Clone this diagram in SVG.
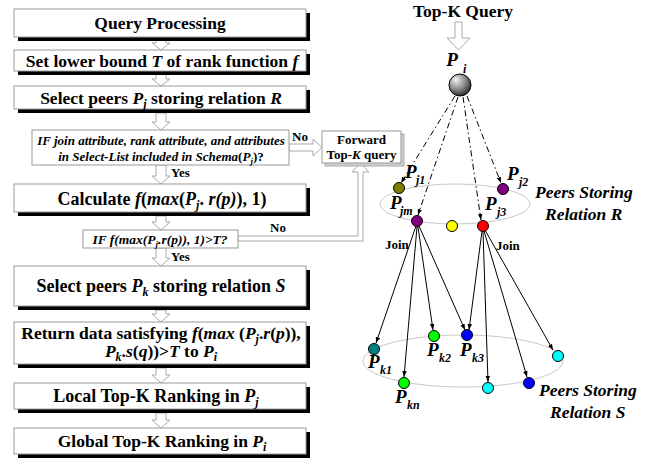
<svg xmlns="http://www.w3.org/2000/svg" width="664" height="464" viewBox="0 0 664 464">
<defs>
<style>
text{font-family:"Liberation Serif","Times New Roman",serif;font-weight:bold;fill:#000}
.box{fill:#fff;stroke:#999;stroke-width:1}
.sh{fill:#000}
.cond{fill:#fff;stroke:#999;stroke-width:1}
.harrow{fill:#fff;stroke:#aaa;stroke-width:1}
.t17{font-size:17.5px}
.t18{font-size:18px}
.t13{font-size:13px}
.it{font-style:italic}
.sub{font-size:12px;font-style:italic}
.dd{fill:none;stroke:#000;stroke-width:1;stroke-dasharray:6 3 1.5 3}
.jn{fill:none;stroke:#000;stroke-width:1}
.ell{fill:none;stroke:#c8c8c8;stroke-width:1}
.nd{stroke:#000;stroke-width:1}
.lbl{font-size:19px;font-style:italic}
.lsub{font-size:12px;font-style:italic}
</style>
<marker id="ah" viewBox="0 0 8 6" refX="8" refY="3" markerWidth="6" markerHeight="5" markerUnits="userSpaceOnUse" orient="auto">
<path d="M0,0 L8,3 L0,6 Z" fill="#000"/>
</marker>
<radialGradient id="sph" cx="0.4" cy="0.35" r="0.65" fx="0.3" fy="0.25">
<stop offset="0" stop-color="#f4f4f4"/>
<stop offset="0.6" stop-color="#8a8a8a"/>
<stop offset="1" stop-color="#303030"/>
</radialGradient>
</defs>
<rect width="664" height="464" fill="#fff"/>

<g id="flow-arrows" class="harrow">
<path d="M156,40 V43 H152 L161,50 L170,43 H166 V40 Z"/>
<path d="M156,74 V79 H152 L161,86 L170,79 H166 V74 Z"/>
<path d="M156,113 V122 H152 L161,130 L170,122 H166 V113 Z"/>
<path d="M156,165 V176 H152 L161,184 L170,176 H166 V165 Z"/>
<path d="M156,216 V222 H152 L161,230 L170,222 H166 V216 Z"/>
<path d="M156,248 V258 H152 L161,266 L170,258 H166 V248 Z"/>
<path d="M156,310 V314 H152 L161,322 L170,314 H166 V310 Z"/>
<path d="M156,368 V375 H152 L161,383 L170,375 H166 V368 Z"/>
<path d="M156,413 V420 H152 L161,428 L170,420 H166 V413 Z"/>
<path d="M289,144 H313 V139 L322,147.5 L313,156 V151 H289 Z"/>
<path d="M238,236 H358 V172 H352 L360.5,163 L369,172 H363 V241 H238 Z"/>
<path d="M455,22 V38 H447 L458.5,50 L470,38 H462 V22 Z"/>
</g>

<g id="n1">
<rect class="sh" x="18" y="13" width="292" height="28"/>
<rect class="box" x="14" y="9" width="292" height="28"/>
<text class="t17" x="160" y="29" text-anchor="middle">Query Processing</text>
</g>
<g id="n2">
<rect class="sh" x="18" y="54" width="292" height="21"/>
<rect class="box" x="14" y="50" width="292" height="21"/>
<text class="t17" x="162" y="67" text-anchor="middle">Set lower bound <tspan class="it">T</tspan> of rank function <tspan class="it">f</tspan></text>
</g>
<g id="n3">
<rect class="sh" x="18" y="90" width="292" height="23"/>
<rect class="box" x="14" y="86" width="292" height="23"/>
<text class="t17" x="161" y="104" text-anchor="middle">Select peers <tspan class="it">P</tspan><tspan class="sub" dy="4">j</tspan><tspan dy="-4"> storing relation </tspan><tspan class="it">R</tspan></text>
</g>
<g id="n4">
<rect class="cond" x="32" y="130" width="257" height="35"/>
<text class="t13 it" x="161" y="145" text-anchor="middle">IF join attribute, rank attribute, and attributes</text>
<text class="t13 it" x="161" y="161" text-anchor="middle">in Select-List included in Schema<tspan font-style="normal">(</tspan>P<tspan font-size="9px" dy="3">j</tspan><tspan font-style="normal" dy="-3">)?</tspan></text>
</g>
<g id="n5">
<rect class="sh" x="18" y="188" width="292" height="28"/>
<rect class="box" x="14" y="184" width="292" height="28"/>
<text class="t18" x="162" y="205" text-anchor="middle">Calculate  <tspan class="it">f</tspan>(<tspan class="it">max</tspan>(<tspan class="it">P</tspan><tspan class="sub" dy="4">j</tspan><tspan dy="-4">. </tspan><tspan class="it">r(p)</tspan>), 1)</text>
</g>
<g id="n6">
<rect class="cond" x="83" y="230" width="155" height="18"/>
<text class="it" font-size="13.5px" x="160" y="244" text-anchor="middle">IF f(max(P<tspan font-size="9px" dy="3">j</tspan><tspan dy="-3">.r(p)), 1)&gt;T?</tspan></text>
</g>
<g id="n7">
<rect class="sh" x="18" y="270" width="292" height="40"/>
<rect class="box" x="14" y="266" width="292" height="40"/>
<text class="t18" x="161" y="292" text-anchor="middle">Select peers <tspan class="it">P</tspan><tspan class="sub" dy="4">k</tspan><tspan dy="-4"> storing relation </tspan><tspan class="it">S</tspan></text>
</g>
<g id="n8">
<rect class="sh" x="18" y="326" width="292" height="42"/>
<rect class="box" x="14" y="322" width="292" height="42"/>
<text class="t17" x="161" y="339" text-anchor="middle">Return data satisfying <tspan class="it">f</tspan>(<tspan class="it">max</tspan> (<tspan class="it">P</tspan><tspan class="sub" dy="4">j</tspan><tspan dy="-4">.</tspan><tspan class="it">r</tspan>(<tspan class="it">p</tspan>)),</text>
<text class="t17" x="161" y="357" text-anchor="middle"><tspan class="it">P</tspan><tspan class="sub" dy="4">k</tspan><tspan dy="-4">.</tspan><tspan class="it">s</tspan>(<tspan class="it">q</tspan>))&gt;<tspan class="it">T</tspan> to <tspan class="it">P</tspan><tspan class="sub" dy="4">i</tspan></text>
</g>
<g id="n9">
<rect class="sh" x="18" y="387" width="292" height="26"/>
<rect class="box" x="14" y="383" width="292" height="26"/>
<text class="t18" x="156" y="402" text-anchor="middle">Local Top-K Ranking in <tspan class="it">P</tspan><tspan class="sub" dy="4">j</tspan></text>
</g>
<g id="n10">
<rect class="sh" x="18" y="432" width="292" height="26"/>
<rect class="box" x="14" y="428" width="292" height="26"/>
<text class="t17" x="162" y="447" text-anchor="middle">Global Top-K Ranking in <tspan class="it">P</tspan><tspan class="sub" dy="4">i</tspan></text>
</g>
<g id="fwd">
<rect x="325" y="134" width="79" height="32" fill="#cfcfcf" stroke="#aaa"/>
<rect x="322" y="131" width="79" height="32" fill="#fff" stroke="#999"/>
<text class="t13" x="361.5" y="144" text-anchor="middle">Forward</text>
<text class="t13" x="361.5" y="159" text-anchor="middle">Top-<tspan class="it">K</tspan> query</text>
</g>
<g id="flow-labels">
<text class="t13" x="300" y="141" text-anchor="middle">No</text>
<text class="t13" x="278" y="232" text-anchor="middle">No</text>
<text class="t13" x="171" y="177">Yes</text>
<text class="t13" x="171" y="261">Yes</text>
</g>

<text class="t17" x="463" y="17" text-anchor="middle">Top-K Query</text>
<ellipse class="ell" cx="455" cy="204" rx="75" ry="20"/>
<ellipse class="ell" cx="463" cy="361" rx="100" ry="26"/>

<g id="connectors">
<line class="dd" x1="455" y1="96" x2="401" y2="183" marker-end="url(#ah)"/>
<line class="dd" x1="458" y1="97" x2="418" y2="215" marker-end="url(#ah)"/>
<line class="dd" x1="463" y1="97" x2="481" y2="220" marker-end="url(#ah)"/>
<line class="dd" x1="467" y1="96" x2="501" y2="183" marker-end="url(#ah)"/>
<line class="jn" x1="416" y1="226" x2="376" y2="343" marker-end="url(#ah)"/>
<line class="jn" x1="417" y1="227" x2="404" y2="377" marker-end="url(#ah)"/>
<line class="jn" x1="418" y1="227" x2="433" y2="330" marker-end="url(#ah)"/>
<line class="jn" x1="419" y1="226" x2="465" y2="330" marker-end="url(#ah)"/>
<line class="jn" x1="482" y1="231" x2="469" y2="330" marker-end="url(#ah)"/>
<line class="jn" x1="483" y1="231" x2="488" y2="382" marker-end="url(#ah)"/>
<line class="jn" x1="484" y1="231" x2="527" y2="377" marker-end="url(#ah)"/>
<line class="jn" x1="485" y1="230" x2="553" y2="350" marker-end="url(#ah)"/>
</g>

<g id="Pi">
<circle cx="460" cy="85" r="11" fill="url(#sph)" stroke="#000" stroke-width="1"/>
<text class="lbl" x="452" y="66" text-anchor="middle">P</text><text class="lsub" x="463" y="73">i</text>
</g>
<g id="Pj1"><circle class="nd" cx="399" cy="188" r="5.5" fill="#808000"/><text class="lbl" x="405" y="178">P</text><text class="lsub" x="416" y="184">j1</text></g>
<g id="Pj2"><circle class="nd" cx="503" cy="189" r="5.5" fill="#800080"/><text class="lbl" x="507" y="180">P</text><text class="lsub" x="519" y="186">j2</text></g>
<g id="Pjm"><circle class="nd" cx="417" cy="221" r="5.5" fill="#800080"/><text class="lbl" x="390" y="209">P</text><text class="lsub" x="400" y="215">jm</text></g>
<g id="Py"><circle class="nd" cx="452" cy="226" r="5.5" fill="#ffff00"/></g>
<g id="Pj3"><circle class="nd" cx="483" cy="226" r="5.5" fill="#ff0000"/><text class="lbl" x="485" y="210">P</text><text class="lsub" x="497" y="216">j3</text></g>
<text class="t17 it" x="535" y="198">Peers Storing</text>
<text class="t17 it" x="545" y="220">Relation R</text>

<g id="Pk1"><circle class="nd" cx="374" cy="349" r="5.5" fill="#008080"/><text class="lbl" x="368" y="368">P</text><text class="lsub" x="380" y="374">k1</text></g>
<g id="Pk2"><circle class="nd" cx="434" cy="336" r="5.5" fill="#00ff00"/><text class="lbl" x="427" y="356">P</text><text class="lsub" x="439" y="362">k2</text></g>
<g id="Pk3"><circle class="nd" cx="467" cy="335" r="5.5" fill="#0000ff"/><text class="lbl" x="460" y="356">P</text><text class="lsub" x="472" y="362">k3</text></g>
<g id="Pc1"><circle class="nd" cx="558" cy="356" r="5.5" fill="#00ffff"/></g>
<g id="Pkn"><circle class="nd" cx="404" cy="383" r="5.5" fill="#00ff00"/><text class="lbl" x="395" y="403">P</text><text class="lsub" x="407" y="409">kn</text></g>
<g id="Pc2"><circle class="nd" cx="488" cy="388" r="5.5" fill="#00ffff"/></g>
<g id="Pb2"><circle class="nd" cx="529" cy="383" r="5.5" fill="#0000ff"/></g>
<text class="t17 it" x="539" y="396">Peers Storing</text>
<text class="t17 it" x="550" y="418">Relation S</text>
<text class="t13" x="385" y="249">Join</text>
<text class="t13" x="496" y="250">Join</text>
</svg>
